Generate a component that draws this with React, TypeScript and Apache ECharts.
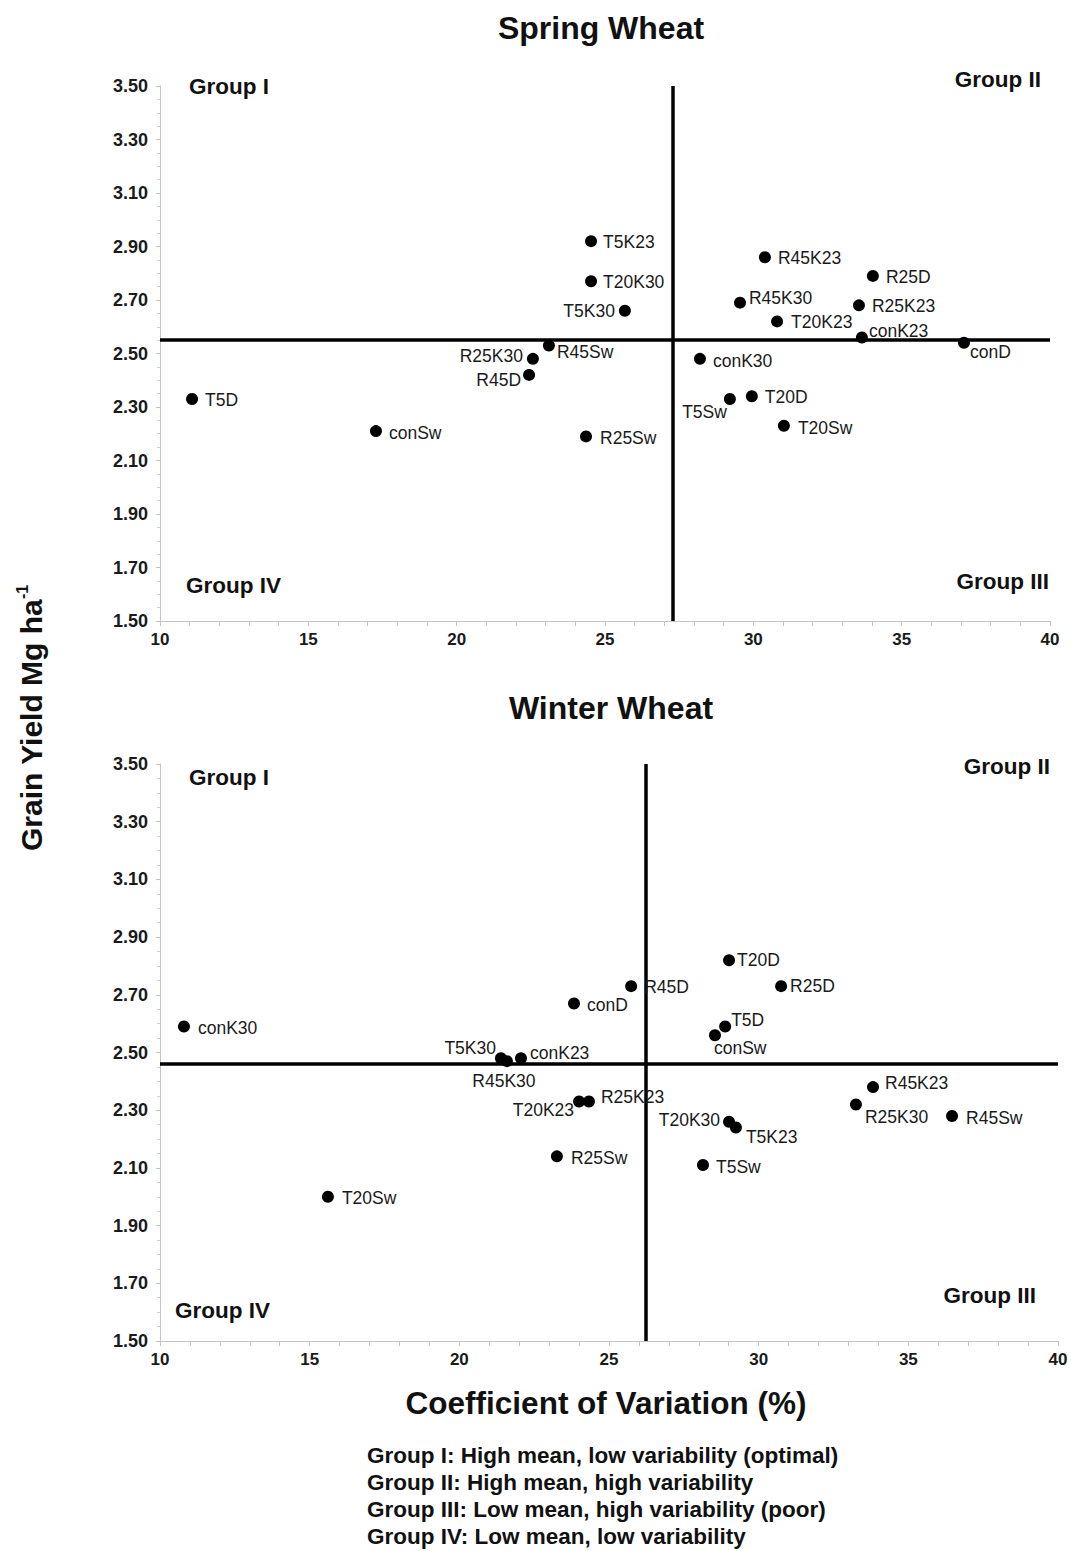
import React, { useEffect, useRef } from "react";
import * as echarts from "echarts";

const FONT = '"Liberation Sans", Arial, Helvetica, sans-serif';

// Spring wheat: treatment, coefficient of variation (%), mean grain yield (Mg/ha)
const springNames = ["T5K23", "T20K30", "T5K30", "R45K23", "R25D", "R45K30", "R25K23", "T20K23", "conK23", "conD", "R45Sw", "R25K30", "R45D", "conK30", "T5D", "conSw", "R25Sw", "T5Sw", "T20D", "T20Sw"];
const springCV = [24.53, 24.53, 25.67, 30.39, 34.03, 29.55, 33.56, 30.8, 33.66, 37.1, 23.11, 22.57, 22.44, 28.2, 11.08, 17.28, 24.36, 29.21, 29.95, 31.03];
const springYield = [2.92, 2.77, 2.66, 2.86, 2.79, 2.69, 2.68, 2.62, 2.56, 2.54, 2.53, 2.48, 2.42, 2.48, 2.33, 2.21, 2.19, 2.33, 2.34, 2.23];
const springMeanCV = 27.29;
const springMeanYield = 2.55;

// Winter wheat
const winterNames = ["conK30", "T20Sw", "T5K30", "R45K30", "conK23", "conD", "R45D", "T20K23", "R25K23", "R25Sw", "T20D", "R25D", "T5D", "conSw", "R45K23", "R25K30", "R45Sw", "T20K30", "T5K23", "T5Sw"];
const winterCV = [10.8, 15.61, 21.39, 21.59, 22.06, 23.83, 25.74, 24.0, 24.33, 23.26, 29.01, 30.75, 28.88, 28.54, 33.82, 33.25, 36.46, 29.01, 29.24, 28.14];
const winterYield = [2.59, 2.0, 2.48, 2.47, 2.48, 2.67, 2.73, 2.33, 2.33, 2.14, 2.82, 2.73, 2.59, 2.56, 2.38, 2.32, 2.28, 2.26, 2.24, 2.11];
const winterMeanCV = 26.24;
const winterMeanYield = 2.46;

const xTicks = { min: 10, max: 40, step: 5 };
const yTicks = { min: 1.5, max: 3.5, step: 0.2 };

const legendLines = [
  "Group I: High mean, low variability (optimal)",
  "Group II: High mean, high variability",
  "Group III: Low mean, high variability (poor)",
  "Group IV: Low mean, low variability",
];

// label anchor relative to the dot centre: [dx, dy, align]
type Place = [number, number, "left" | "right" | "center"];
const springLabelPlace: Record<string, Place> = {
  T5K23: [12, 1, "left"],
  T20K30: [12, 1, "left"],
  T5K30: [-10, 0, "right"],
  R45K23: [13, 1, "left"],
  R25D: [13, 1, "left"],
  R45K30: [9, -5, "left"],
  R25K23: [13, 1, "left"],
  T20K23: [14, 1, "left"],
  conK23: [7, -6, "left"],
  conD: [6, 9, "left"],
  R45Sw: [8, 7, "left"],
  R25K30: [-10, -3, "right"],
  R45D: [-8, 5, "right"],
  conK30: [13, 2, "left"],
  T5D: [13, 1, "left"],
  conSw: [13, 2, "left"],
  R25Sw: [14, 2, "left"],
  T5Sw: [-3, 13, "right"],
  T20D: [13, 1, "left"],
  T20Sw: [14, 2, "left"],
};
const winterLabelPlace: Record<string, Place> = {
  conK30: [14, 1, "left"],
  T20Sw: [14, 1, "left"],
  T5K30: [-5, -10, "right"],
  R45K30: [-3, 20, "center"],
  conK23: [9, -5, "left"],
  conD: [13, 2, "left"],
  R45D: [13, 1, "left"],
  T20K23: [-5, 8, "right"],
  R25K23: [12, -5, "left"],
  R25Sw: [14, 2, "left"],
  T20D: [8, 0, "left"],
  R25D: [9, 0, "left"],
  T5D: [6, -7, "left"],
  conSw: [-1, 13, "left"],
  R45K23: [12, -4, "left"],
  R25K30: [9, 13, "left"],
  R45Sw: [14, 2, "left"],
  T20K30: [-9, -2, "right"],
  T5K23: [10, 9, "left"],
  T5Sw: [13, 2, "left"],
};

const DOT = 12;

function points(names: string[], cv: number[], yld: number[], place: Record<string, Place>) {
  return names.map((name, i) => {
    const [dx, dy, align] = place[name] || [12, 0, "left"];
    return {
      name,
      value: [cv[i], yld[i]],
      label: {
        show: true,
        formatter: name,
        position: [dx + DOT / 2, dy + DOT / 2],
        align,
        verticalAlign: "middle",
      },
    };
  });
}

function xAxisFor(gridIndex: number) {
  return {
    type: "value",
    gridIndex,
    min: xTicks.min,
    max: xTicks.max,
    interval: xTicks.step,
    axisLine: { show: true, lineStyle: { color: "#c4c4c4", width: 1 } },
    axisTick: { show: true, length: 5, lineStyle: { color: "#c4c4c4" } },
    minorTick: { show: true, splitNumber: 5, length: 5, lineStyle: { color: "#c4c4c4" } },
    splitLine: { show: false },
    axisLabel: {
      fontFamily: FONT,
      fontWeight: "bold",
      fontSize: 17,
      color: "#1a1a1a",
      margin: 10,
    },
  };
}

function yAxisFor(gridIndex: number) {
  return {
    type: "value",
    gridIndex,
    min: yTicks.min,
    max: yTicks.max,
    interval: yTicks.step,
    axisLine: { show: true, lineStyle: { color: "#c4c4c4", width: 1 } },
    axisTick: { show: true, length: 4, lineStyle: { color: "#c4c4c4" } },
    minorTick: { show: true, splitNumber: 4, length: 3, lineStyle: { color: "#cfcfcf" } },
    splitLine: { show: false },
    axisLabel: {
      fontFamily: FONT,
      fontWeight: "bold",
      fontSize: 18,
      color: "#1a1a1a",
      margin: 12,
      formatter: (v: number) => v.toFixed(2),
    },
  };
}

function scatterSeries(
  idx: number,
  names: string[],
  cv: number[],
  yld: number[],
  place: Record<string, Place>,
  meanCV: number,
  meanYield: number
) {
  return {
    type: "scatter",
    xAxisIndex: idx,
    yAxisIndex: idx,
    symbol: "circle",
    symbolSize: DOT,
    itemStyle: { color: "#000", opacity: 1 },
    label: {
      fontFamily: FONT,
      fontSize: 17.5,
      color: "#1a1a1a",
    },
    z: 3,
    data: points(names, cv, yld, place),
    markLine: {
      silent: true,
      symbol: "none",
      label: { show: false },
      lineStyle: { color: "#000", width: 3.5, type: "solid", opacity: 1 },
      data: [{ xAxis: meanCV }, { yAxis: meanYield }],
      z: 2,
    },
  };
}

function txt(text: string, x: number, y: number, size: number, align: string, lineHeight?: number) {
  return {
    type: "text",
    x,
    y,
    style: {
      text,
      fill: "#111",
      fontFamily: FONT,
      fontSize: size,
      fontWeight: "bold",
      textAlign: align,
      textVerticalAlign: "middle",
      verticalAlign: "middle",
      ...(lineHeight ? { lineHeight } : {}),
    },
  };
}

export default function App() {
  const ref = useRef<HTMLDivElement>(null);

  useEffect(() => {
    document.body.style.margin = "0";
    if (!ref.current) return;
    const chart = echarts.init(ref.current, null, { renderer: "svg" });

    const option = {
      animation: false,
      backgroundColor: "#fff",
      grid: [
        { left: 160, top: 86, width: 890, height: 535 },
        { left: 160, top: 764, width: 898, height: 577 },
      ],
      xAxis: [xAxisFor(0), xAxisFor(1)],
      yAxis: [yAxisFor(0), yAxisFor(1)],
      series: [
        scatterSeries(0, springNames, springCV, springYield, springLabelPlace, springMeanCV, springMeanYield),
        scatterSeries(1, winterNames, winterCV, winterYield, winterLabelPlace, winterMeanCV, winterMeanYield),
      ],
      graphic: [
        txt("Spring Wheat", 601, 28, 32, "center"),
        txt("Winter Wheat", 611, 708, 32, "center"),
        txt("Group I", 189, 86, 22.5, "left"),
        txt("Group II", 1041, 79, 22.5, "right"),
        txt("Group IV", 186, 585, 22.5, "left"),
        txt("Group III", 1049, 581, 22.5, "right"),
        txt("Group I", 189, 777, 22.5, "left"),
        txt("Group II", 1050, 766, 22.5, "right"),
        txt("Group IV", 175, 1310, 22.5, "left"),
        txt("Group III", 1036, 1295, 22.5, "right"),
        txt("Coefficient of Variation (%)", 606, 1403, 31.5, "center"),
        ...legendLines.map((line, i) => txt(line, 367, 1455 + i * 27.3, 22.5, "left", 24)),
        {
          type: "text",
          x: 31,
          y: 718,
          rotation: Math.PI / 2,
          style: {
            text: "{a|Grain Yield Mg ha}{b|-1}",
            textAlign: "center",
            textVerticalAlign: "middle",
            verticalAlign: "middle",
            rich: {
              a: {
                fontFamily: FONT,
                fontWeight: "bold",
                fontSize: 30,
                fill: "#111",
                color: "#111",
                lineHeight: 34,
              },
              b: {
                fontFamily: FONT,
                fontWeight: "bold",
                fontSize: 16,
                fill: "#111",
                color: "#111",
                verticalAlign: "top",
                lineHeight: 34,
                padding: [0, 0, 14, 0],
              },
            },
          },
        },
      ],
    };

    chart.setOption(option as any);
    return () => chart.dispose();
  }, []);

  return <div ref={ref} style={{ width: 1071, height: 1551, background: "#fff" }} />;
}
